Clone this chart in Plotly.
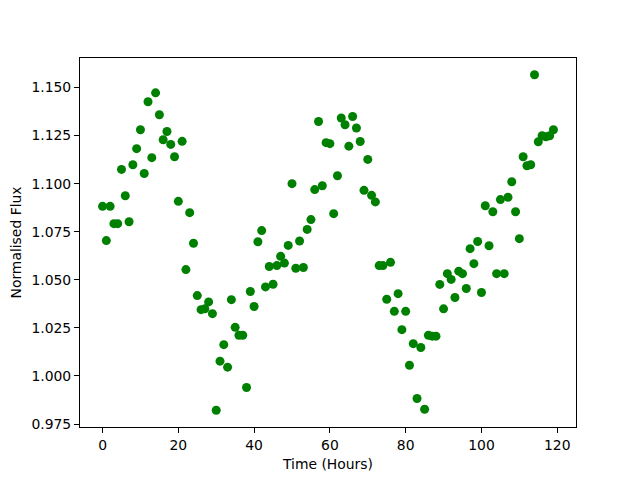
import plotly.graph_objects as go

time_hours = list(range(120))
flux = [
    1.0882, 1.0704, 1.0882, 1.0792, 1.0792, 1.1074, 1.0937, 1.0802, 1.1098, 1.1182,
    1.1280, 1.1053, 1.1426, 1.1135, 1.1472, 1.1358, 1.1228, 1.1271, 1.1204, 1.1140,
    1.0908, 1.1220, 1.0553, 1.0849, 1.0690, 1.0418, 1.0345, 1.0349, 1.0385, 1.0324,
    0.9822, 1.0077, 1.0163, 1.0046, 1.0397, 1.0253, 1.0212, 1.0212, 0.9940, 1.0439,
    1.0361, 1.0698, 1.0756, 1.0463, 1.0569, 1.0477, 1.0574, 1.0622, 1.0587, 1.0679,
    1.1000, 1.0560, 1.0702, 1.0564, 1.0762, 1.0813, 1.0969, 1.1323, 1.0989, 1.1213,
    1.1208, 1.0844, 1.1041, 1.1341, 1.1306, 1.1195, 1.1349, 1.1289, 1.1219, 1.0965,
    1.1126, 1.0939, 1.0905, 1.0574, 1.0574, 1.0399, 1.0591, 1.0336, 1.0428, 1.0241,
    1.0336, 1.0056, 1.0168, 0.9883, 1.0148, 0.9827, 1.0212, 1.0207, 1.0207, 1.0476,
    1.0349, 1.0532, 1.0502, 1.0408, 1.0545, 1.0532, 1.0455, 1.0662, 1.0584, 1.0699,
    1.0434, 1.0885, 1.0677, 1.0854, 1.0532, 1.0917, 1.0532, 1.0929, 1.1010, 1.0854,
    1.0714, 1.1140, 1.1093, 1.1098, 1.1566, 1.1218, 1.1249, 1.1244, 1.1249, 1.1280,
]

x_ticks = [0, 20, 40, 60, 80, 100, 120]
y_ticks = [0.975, 1.000, 1.025, 1.050, 1.075, 1.100, 1.125, 1.150]

xmin, xmax = min(time_hours), max(time_hours)
ymin, ymax = min(flux), max(flux)
xm = 0.05 * (xmax - xmin)
ym = 0.05 * (ymax - ymin)

fig = go.Figure(go.Scatter(
    x=time_hours, y=flux, mode="markers",
    marker=dict(color="#008000", size=9, line=dict(width=0)),
))

font = dict(family="DejaVu Sans", size=13.9, color="black")
axis_common = dict(
    showgrid=False, zeroline=False, showline=True, linecolor="black", linewidth=1,
    mirror=True, ticks="outside", ticklen=5, tickwidth=1, tickcolor="black",
    tickfont=font, automargin=False,
)
# the page body adds an 8px offset, so margins are shifted to keep the axes box in place
fig.update_layout(
    width=640, height=480,
    margin=dict(l=72, r=72, t=49.6, b=60.8),
    plot_bgcolor="white", paper_bgcolor="white",
    showlegend=False, font=font,
    xaxis=dict(range=[xmin - xm, xmax + xm], tickvals=x_ticks,
               ticktext=[str(t) for t in x_ticks],
               title=dict(text="Time (Hours)", font=font, standoff=7), **axis_common),
    yaxis=dict(range=[ymin - ym, ymax + ym], tickvals=y_ticks,
               ticktext=[f"{t:.3f}" for t in y_ticks],
               title=dict(text="Normalised Flux", font=font, standoff=6), **axis_common),
)
fig.write_html("out.html")
